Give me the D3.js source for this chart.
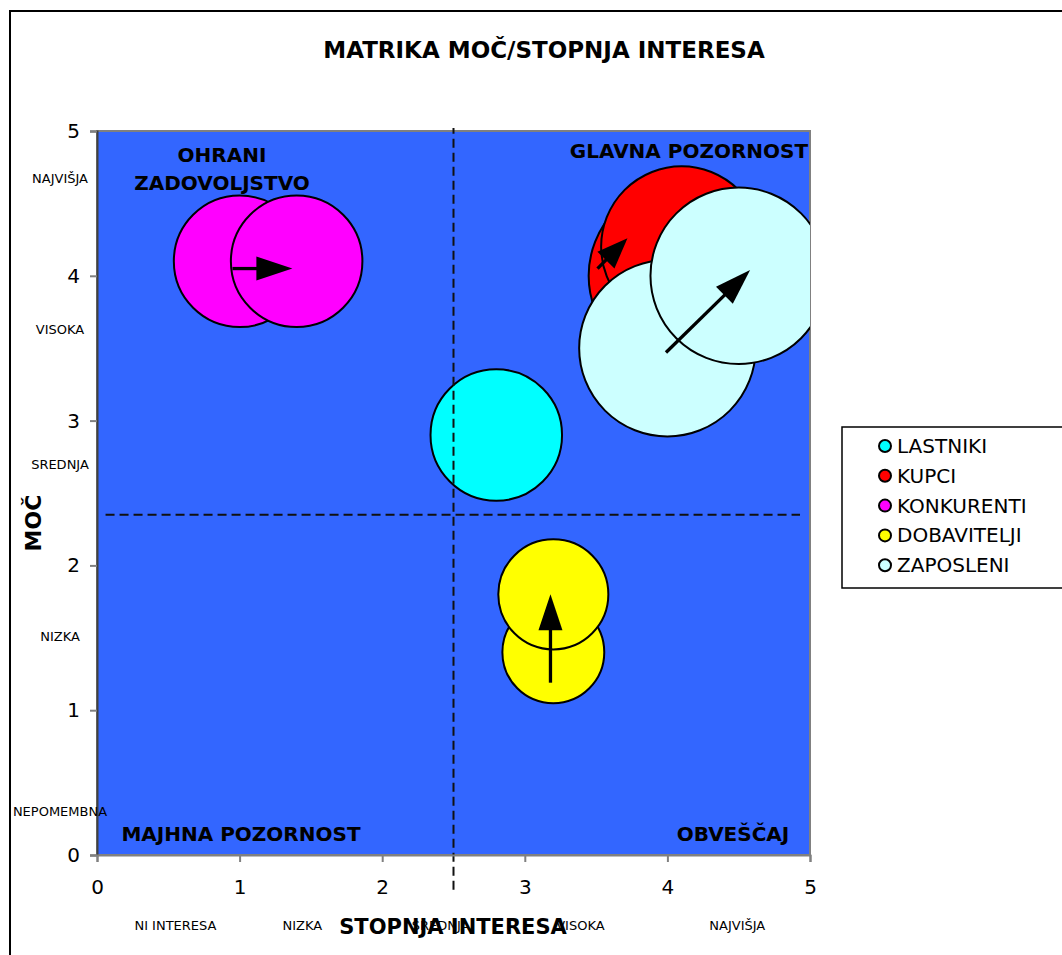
<!DOCTYPE html>
<html>
<head>
<meta charset="utf-8">
<script src="https://cdn.jsdelivr.net/npm/d3@7"></script>
<style>
  html, body { margin: 0; padding: 0; background: #fff; }
  svg { display: block; }
  text { font-family: "DejaVu Sans", "Verdana", sans-serif; }
</style>
</head>
<body>
<div id="chart"></div>
<script>
// Stakeholder series (legend order and colours)
const seriesNames = ["LASTNIKI", "KUPCI", "KONKURENTI", "DOBAVITELJI", "ZAPOSLENI"];
const seriesColors = ["#00FFFF", "#FF0000", "#FF00FF", "#FFFF00", "#CCFFFF"];

// Bubbles, in drawing order: interest (x), power (y), bubble size
const pointSeries = ["LASTNIKI", "KONKURENTI", "KONKURENTI", "DOBAVITELJI", "DOBAVITELJI", "KUPCI", "KUPCI", "ZAPOSLENI", "ZAPOSLENI"];
const pointInterest = [2.8, 1.0, 1.4, 3.2, 3.2, 4.1, 4.1, 4.0, 4.5];
const pointPower = [2.9, 4.1, 4.1, 1.4, 1.8, 4.0, 4.2, 3.5, 4.0];
const pointSize = [5, 5, 5, 3, 3.5, 10, 7.5, 9, 9];

// Movement arrows (from -> to) in interest/power units
const arrowFromX = [0.95, 3.18, 3.51, 3.99];
const arrowFromY = [4.05, 1.19, 4.05, 3.47];
const arrowToX = [1.37, 3.18, 3.72, 4.58];
const arrowToY = [4.05, 1.80, 4.26, 4.04];

// Quadrant dividers
const dividerInterest = 2.5;
const dividerPowerSpan = [-0.24, 5.02];
const dividerPower = 2.35;
const dividerInterestSpan = [0.06, 4.93];

// Axis ticks and level labels
const tickValues = [0, 1, 2, 3, 4, 5];
const powerLevels = ["NAJVIŠJA", "VISOKA", "SREDNJA", "NIZKA", "NEPOMEMBNA"];
const powerLevelPos = [4.67, 3.63, 2.70, 1.51, 0.30];
const interestLevels = ["NI INTERESA", "NIZKA", "SREDNJA", "VISOKA", "NAJVIŠJA"];
const interestLevelPos = [0.55, 1.44, 2.41, 3.39, 4.49];

// Quadrant names
const quadrantLabels = [["OHRANI", "ZADOVOLJSTVO"], ["GLAVNA POZORNOST"], ["MAJHNA POZORNOST"], ["OBVEŠČAJ"]];

const W = 1062, H = 955;
const plot = { left: 97, right: 810, top: 131, bottom: 855 };

const svg = d3.select("#chart").append("svg").attr("width", W).attr("height", H);

// outer chart frame
svg.append("rect").attr("x", 10).attr("y", 11).attr("width", 1200).attr("height", 1200)
  .attr("fill", "#fff").attr("stroke", "#000").attr("stroke-width", 2);

const x = d3.scaleLinear().domain([0, 5]).range([plot.left, plot.right]);
const y = d3.scaleLinear().domain([0, 5]).range([plot.bottom, plot.top]);
const r = d3.scaleSqrt().domain([0, d3.max(pointSize)]).range([0, 93]);
const color = d3.scaleOrdinal().domain(seriesNames).range(seriesColors);

// title
svg.append("text").attr("x", 544).attr("y", 50).attr("text-anchor", "middle")
  .attr("dominant-baseline", "central").attr("font-size", 23).attr("font-weight", "bold")
  .text("MATRIKA MOČ/STOPNJA INTERESA");

// plot area
svg.append("rect").attr("x", plot.left).attr("y", plot.top)
  .attr("width", plot.right - plot.left).attr("height", plot.bottom - plot.top)
  .attr("fill", "#3366FF").attr("stroke", "#808080").attr("stroke-width", 2);

svg.append("clipPath").attr("id", "plotclip").append("rect")
  .attr("x", plot.left).attr("y", plot.top)
  .attr("width", plot.right - plot.left).attr("height", plot.bottom - plot.top);

// quadrant labels
const qg = svg.append("g").attr("font-weight", "bold").attr("font-size", 20).attr("text-anchor", "middle");
const qPos = [[222, 155], [689, 151], [241, 834], [733, 834]];
quadrantLabels.forEach((lines, i) => {
  lines.forEach((t, j) => {
    qg.append("text").attr("x", qPos[i][0]).attr("y", qPos[i][1] + j * 28)
      .attr("dominant-baseline", "central").text(t);
  });
});

// bubbles
const points = pointSeries.map((s, i) => ({ s, x: pointInterest[i], y: pointPower[i], size: pointSize[i] }));
svg.append("g").attr("clip-path", "url(#plotclip)")
  .selectAll("circle").data(points).join("circle")
  .attr("cx", d => x(d.x)).attr("cy", d => y(d.y)).attr("r", d => r(d.size))
  .attr("fill", d => color(d.s)).attr("stroke", "#000").attr("stroke-width", 2);

// divider lines
svg.append("line").attr("x1", x(dividerInterest)).attr("x2", x(dividerInterest))
  .attr("y1", y(dividerPowerSpan[0])).attr("y2", y(dividerPowerSpan[1]))
  .attr("stroke", "#111").attr("stroke-width", 2).attr("stroke-dasharray", "9,5");
svg.append("line").attr("y1", y(dividerPower)).attr("y2", y(dividerPower))
  .attr("x1", x(dividerInterestSpan[0])).attr("x2", x(dividerInterestSpan[1]))
  .attr("stroke", "#111").attr("stroke-width", 2).attr("stroke-dasharray", "9,5");

// arrows
const ag = svg.append("g");
arrowFromX.forEach((fx, i) => {
  const x1 = x(fx), y1 = y(arrowFromY[i]), x2 = x(arrowToX[i]), y2 = y(arrowToY[i]);
  const dx = x2 - x1, dy = y2 - y1, len = Math.hypot(dx, dy);
  const ux = dx / len, uy = dy / len;
  const head = Math.min(36, len * 0.72), hw = 12;
  const bx = x2 - ux * head, by = y2 - uy * head;
  ag.append("line").attr("x1", x1).attr("y1", y1).attr("x2", bx + ux * 2).attr("y2", by + uy * 2)
    .attr("stroke", "#000").attr("stroke-width", 3.3);
  ag.append("polygon")
    .attr("points", [[x2, y2], [bx - uy * hw, by + ux * hw], [bx + uy * hw, by - ux * hw]].map(p => p.join(",")).join(" "))
    .attr("fill", "#000");
});

// axes
const axisFont = "\"DejaVu Sans\", Verdana, sans-serif";
const yAxis = svg.append("g").attr("transform", `translate(${plot.left},0)`)
  .call(d3.axisLeft(y).tickValues(tickValues).tickSize(7).tickPadding(10).tickFormat(d3.format("d")));
yAxis.select(".domain").attr("stroke", "#404040").attr("stroke-width", 2);
yAxis.selectAll(".tick line").attr("stroke", "#808080").attr("stroke-width", 2);
yAxis.selectAll(".tick text").attr("font-size", 20).attr("fill", "#000").attr("font-family", axisFont);

const xAxis = svg.append("g").attr("transform", `translate(0,${plot.bottom})`)
  .call(d3.axisBottom(x).tickValues(tickValues).tickSize(7).tickPadding(18).tickFormat(d3.format("d")));
xAxis.select(".domain").attr("stroke", "#808080").attr("stroke-width", 2);
xAxis.selectAll(".tick line").attr("stroke", "#808080").attr("stroke-width", 2);
xAxis.selectAll(".tick text").attr("font-size", 20).attr("fill", "#000").attr("font-family", axisFont);

// level labels
svg.append("g").selectAll("text").data(powerLevels).join("text")
  .attr("x", 60).attr("y", (d, i) => y(powerLevelPos[i]))
  .attr("text-anchor", "middle").attr("dominant-baseline", "central")
  .attr("font-size", 13).text(d => d);
svg.append("g").selectAll("text").data(interestLevels).join("text")
  .attr("x", (d, i) => x(interestLevelPos[i])).attr("y", 925)
  .attr("text-anchor", "middle").attr("dominant-baseline", "central")
  .attr("font-size", 13).text(d => d);

// axis titles
svg.append("text").attr("x", 453).attr("y", 927).attr("text-anchor", "middle")
  .attr("dominant-baseline", "central").attr("font-size", 21).attr("font-weight", "bold")
  .text("STOPNJA INTERESA");
svg.append("text").attr("transform", "translate(33,523) rotate(-90)").attr("text-anchor", "middle")
  .attr("dominant-baseline", "central").attr("font-size", 22).attr("font-weight", "bold")
  .text("MOČ");

// legend
const lg = svg.append("g");
lg.append("rect").attr("x", 842).attr("y", 427).attr("width", 300).attr("height", 161)
  .attr("fill", "#fff").attr("stroke", "#000").attr("stroke-width", 1.5);
const items = lg.selectAll("g.item").data(seriesNames).join("g").attr("class", "item")
  .attr("transform", (d, i) => `translate(885,${446 + i * 29.8})`);
items.append("circle").attr("r", 6).attr("fill", d => color(d)).attr("stroke", "#000").attr("stroke-width", 2);
items.append("text").attr("x", 12).attr("dominant-baseline", "central").attr("font-size", 20).text(d => d);
</script>
</body>
</html>
